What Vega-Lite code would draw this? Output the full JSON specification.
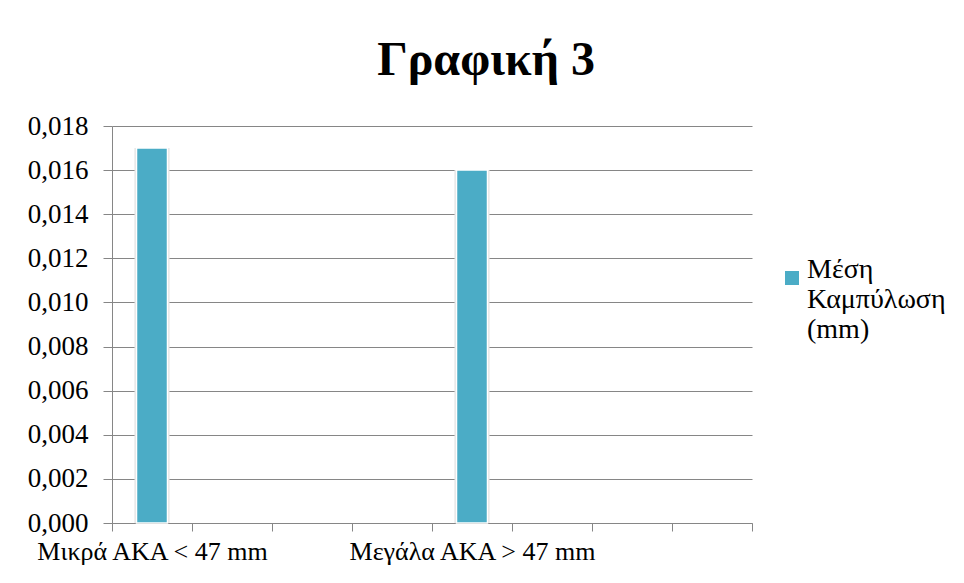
{
  "$schema": "https://vega.github.io/schema/vega-lite/v6.json",
  "width": 640,
  "height": 397,
  "autosize": {"type": "none"},
  "padding": {"left": 112, "top": 126, "right": 212, "bottom": 60},
  "background": "#ffffff",
  "title": {
    "text": "Γραφική 3",
    "font": "Liberation Serif",
    "fontSize": 48,
    "fontWeight": "bold",
    "color": "#000000",
    "anchor": "middle",
    "dx": 54,
    "offset": 27
  },
  "data": {
    "values": [
      {"category": "Μικρά ΑΚΑ < 47 mm", "series": "Μέση Καμπύλωση (mm)", "value": 0.017},
      {"category": "Μεγάλα ΑΚΑ > 47 mm", "series": "Μέση Καμπύλωση (mm)", "value": 0.016}
    ]
  },
  "encoding": {
    "x": {
      "field": "category",
      "type": "nominal",
      "sort": null,
      "scale": {
        "domain": ["Μικρά ΑΚΑ < 47 mm", "_2", "_3", "_4", "Μεγάλα ΑΚΑ > 47 mm", "_6", "_7", "_8"],
        "paddingInner": 0,
        "paddingOuter": 0
      },
      "axis": {
        "title": null,
        "labelAngle": 0,
        "tickBand": "extent",
        "labelExpr": "indexof(datum.label, '_') == 0 ? '' : datum.label",
        "labelFont": "Liberation Serif",
        "labelFontSize": 26,
        "labelColor": "#000000",
        "labelPadding": 7,
        "labelLimit": 400,
        "tickSize": 8,
        "tickColor": "#868686",
        "domainColor": "#868686",
        "grid": false
      }
    },
    "y": {
      "field": "value",
      "type": "quantitative",
      "scale": {"domain": [0, 0.018], "nice": false},
      "axis": {
        "title": null,
        "values": [0, 0.002, 0.004, 0.006, 0.008, 0.01, 0.012, 0.014, 0.016, 0.018],
        "labelExpr": "replace(format(datum.value, '.3f'), '.', ',')",
        "labelFont": "Liberation Serif",
        "labelFontSize": 27,
        "labelColor": "#000000",
        "labelPadding": 15,
        "tickSize": 9,
        "tickColor": "#868686",
        "domainColor": "#868686",
        "grid": true,
        "gridColor": "#868686",
        "gridOpacity": 1
      }
    }
  },
  "layer": [
    {
      "mark": {"type": "bar", "size": 35, "color": "#e2e2e2"}
    },
    {
      "mark": {"type": "bar", "size": 31, "stroke": "#ffffff", "strokeWidth": 1.5},
      "encoding": {
        "color": {
          "field": "series",
          "type": "nominal",
          "scale": {"range": ["#4BACC6"]},
          "legend": {
            "title": null,
            "orient": "none",
            "legendX": 666,
            "legendY": 138,
            "symbolType": "square",
            "symbolSize": 196,
            "symbolStrokeWidth": 0,
            "labelFont": "Liberation Serif",
            "labelFontSize": 28,
            "labelColor": "#000000",
            "labelBaseline": "alphabetic",
            "labelOffset": 1,
            "labelLimit": 300,
            "labelExpr": "split(datum.label, ' ')"
          }
        }
      }
    }
  ],
  "config": {
    "view": {"stroke": null}
  }
}
